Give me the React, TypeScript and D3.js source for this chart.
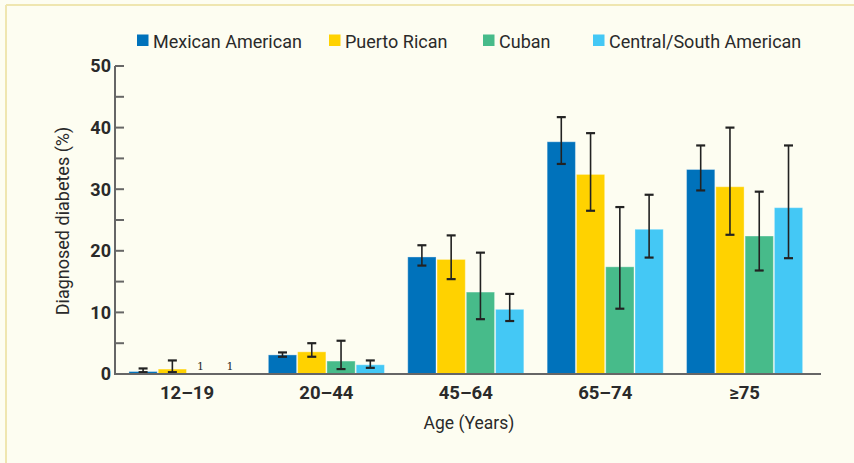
import React from "react";
import * as d3 from "d3";

const ageGroups = ["12–19", "20–44", "45–64", "65–74", "≥75"];
const seriesNames = ["Mexican American", "Puerto Rican", "Cuban", "Central/South American"];
const seriesColors = ["#0072bb", "#ffd200", "#47bb8a", "#44c8f5"];

// values per series, per age group (null = footnote, not shown)
const mexicanAmerican = [0.4, 3.1, 19.0, 37.7, 33.2];
const puertoRican = [0.8, 3.6, 18.6, 32.4, 30.4];
const cuban = [null, 2.1, 13.3, 17.4, 22.4];
const centralSouthAmerican = [null, 1.5, 10.5, 23.5, 27.0];

const mexicanLow = [0.3, 2.8, 17.6, 34.1, 29.8];
const mexicanHigh = [0.9, 3.5, 20.9, 41.7, 37.1];
const puertoLow = [0.3, 2.8, 15.4, 26.5, 22.6];
const puertoHigh = [2.2, 5.0, 22.5, 39.1, 40.0];
const cubanLow = [null, 0.8, 8.9, 10.6, 16.8];
const cubanHigh = [null, 5.4, 19.7, 27.1, 29.6];
const csaLow = [null, 1.0, 8.6, 18.9, 18.8];
const csaHigh = [null, 2.2, 13.0, 29.1, 37.1];

const footnoteLabel = "1";
const yTicks = [0, 10, 20, 30, 40, 50];
const yMinorTicks = [5, 15, 25, 35, 45];

const values = [mexicanAmerican, puertoRican, cuban, centralSouthAmerican];
const lows = [mexicanLow, puertoLow, cubanLow, csaLow];
const highs = [mexicanHigh, puertoHigh, cubanHigh, csaHigh];

export default function App() {
  const W = 854;
  const H = 463;
  const axisX = 115;
  const axisEnd = 821;
  const y = d3.scaleLinear().domain([0, 50]).range([374, 66]);
  const x0 = d3
    .scaleBand<string>()
    .domain(ageGroups)
    .range([117.3, 814.3])
    .paddingInner(0.16)
    .paddingOuter(0.08);
  const x1 = d3
    .scaleBand<string>()
    .domain(seriesNames)
    .range([0, x0.bandwidth()])
    .padding(0);
  const font = "Roboto, 'Liberation Sans', sans-serif";
  const textColor = "#2a2a2a";
  const legendX = [137, 329, 483, 593];

  return (
    <svg
      width={W}
      height={H}
      style={{ position: "absolute", left: 0, top: 0, display: "block" }}
      fontFamily={font}
    >
      <rect x={0} y={0} width={W} height={H} fill="#fdfdf1" />
      <line x1={6} y1={5} x2={W} y2={5} stroke="#efe6b0" strokeWidth={2} />
      <line x1={6} y1={5} x2={6} y2={H} stroke="#efe6b0" strokeWidth={2} />

      {/* legend */}
      {seriesNames.map((s, i) => (
        <g key={s}>
          <rect x={legendX[i]} y={34.5} width={11.5} height={11.5} fill={seriesColors[i]} />
          <text x={legendX[i] + 16} y={47.8} fontSize={18} fill={textColor}>
            {s}
          </text>
        </g>
      ))}

      {/* bars */}
      {ageGroups.map((g, gi) => (
        <g key={g} transform={`translate(${x0(g)},0)`}>
          {seriesNames.map((s, si) => {
            const v = values[si][gi];
            const bx = x1(s)!;
            const bw = x1.bandwidth();
            if (v === null) {
              return (
                <text
                  key={s}
                  x={bx + bw / 2 - 1}
                  y={370}
                  fontSize={11}
                  textAnchor="middle"
                  fontFamily="'DejaVu Serif', serif"
                  fill={textColor}
                >
                  {footnoteLabel}
                </text>
              );
            }
            return (
              <rect
                key={s}
                x={bx + 0.5}
                y={y(v)}
                width={bw - 1}
                height={y(0) - y(v)}
                fill={seriesColors[si]}
                stroke="rgba(255,255,255,0.35)"
                strokeWidth={1}
              />
            );
          })}
          {seriesNames.map((s, si) => {
            const lo = lows[si][gi];
            const hi = highs[si][gi];
            if (lo === null || hi === null) return null;
            const cx = x1(s)! + x1.bandwidth() / 2;
            return (
              <g key={"e" + s} stroke="#222" strokeWidth={1.6}>
                <line x1={cx} x2={cx} y1={y(hi)} y2={y(lo)} />
                <line x1={cx - 4.5} x2={cx + 4.5} y1={y(hi)} y2={y(hi)} strokeWidth={2.2} />
                <line x1={cx - 4.5} x2={cx + 4.5} y1={y(lo)} y2={y(lo)} strokeWidth={2.2} />
              </g>
            );
          })}
        </g>
      ))}

      {/* y axis */}
      <line x1={axisX} x2={axisX} y1={y(50)} y2={y(0)} stroke="#666" strokeWidth={2} />
      {yTicks.map((t) => (
        <g key={t}>
          <line x1={axisX} x2={axisX + 9} y1={y(t)} y2={y(t)} stroke="#666" strokeWidth={2} />
          <text
            x={axisX - 4}
            y={y(t) + 6.4}
            textAnchor="end"
            fontSize={18}
            fontWeight="bold"
            fill={textColor}
          >
            {t}
          </text>
        </g>
      ))}
      {yMinorTicks.map((t) => (
        <line key={t} x1={axisX} x2={axisX + 9} y1={y(t)} y2={y(t)} stroke="#666" strokeWidth={2} />
      ))}
      {/* x axis */}
      <line x1={axisX - 1} x2={axisEnd} y1={y(0)} y2={y(0)} stroke="#666" strokeWidth={2} />
      {ageGroups.map((g) => (
        <text
          key={g}
          x={x0(g)! + x0.bandwidth() / 2}
          y={399}
          textAnchor="middle"
          fontSize={18.5}
          fontWeight="bold"
          fill={textColor}
        >
          {g}
        </text>
      ))}
      <text x={469} y={429} textAnchor="middle" fontSize={17.5} fill={textColor}>
        Age (Years)
      </text>
      <text
        transform={`translate(69,${(y(0) + y(50)) / 2 + 1}) rotate(-90)`}
        textAnchor="middle"
        fontSize={18}
        fill={textColor}
      >
        Diagnosed diabetes (%)
      </text>
    </svg>
  );
}
